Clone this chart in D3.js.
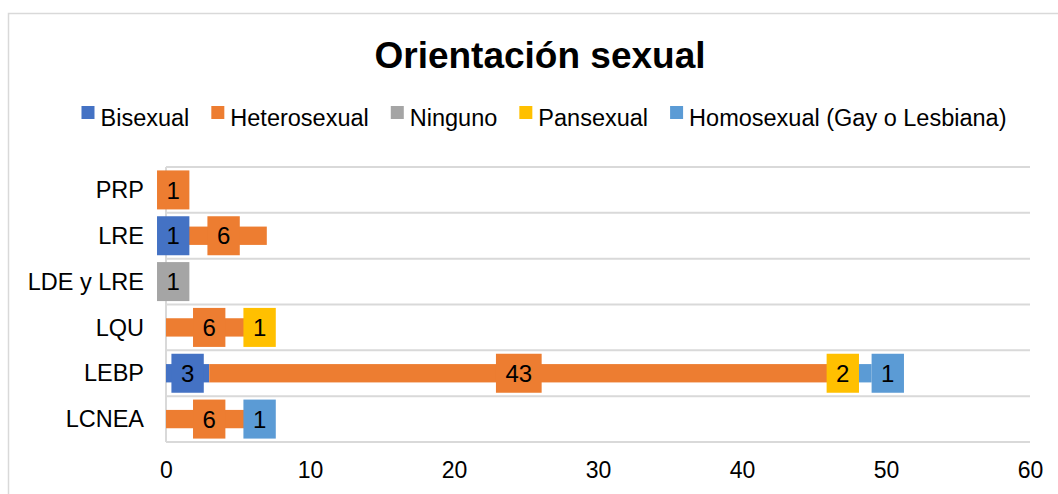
<!DOCTYPE html>
<html>
<head>
<meta charset="utf-8">
<script src="https://cdn.jsdelivr.net/npm/d3@7"></script>
<style>
  body { margin: 0; background: #fff; }
  text { font-family: "Liberation Sans", Arial, sans-serif; }
</style>
</head>
<body>
<div id="chart"></div>
<script>
var categories = ["PRP", "LRE", "LDE y LRE", "LQU", "LEBP", "LCNEA"];
var seriesNames = ["Bisexual", "Heterosexual", "Ninguno", "Pansexual", "Homosexual (Gay o Lesbiana)"];
var bisexual = [0, 1, 0, 0, 3, 0];
var heterosexual = [1, 6, 0, 6, 43, 6];
var ninguno = [0, 0, 1, 0, 0, 0];
var pansexual = [0, 0, 0, 1, 2, 0];
var homosexual = [0, 0, 0, 0, 1, 1];
var xTicks = [0, 10, 20, 30, 40, 50, 60];
var colors = ["#4472C4", "#ED7D31", "#A5A5A5", "#FFC000", "#5B9BD5"];
// the one label excel pushed past the end of its bar
var outsideLabels = [{ cat: "LEBP", series: "Homosexual (Gay o Lesbiana)" }];

var width = 1058, height = 494;
var seriesValues = [bisexual, heterosexual, ninguno, pansexual, homosexual];

var rows = categories.map(function(c, i) {
    var r = { cat: c };
    seriesNames.forEach(function(s, j) { r[s] = seriesValues[j][i]; });
    return r;
});
var stacked = d3.stack().keys(seriesNames)(rows);

var svg = d3.select("#chart").append("svg").attr("width", width).attr("height", height);

// chart border (only top and left fall inside the picture)
svg.append("rect").attr("x", 8.5).attr("y", 13.5).attr("width", 1200).attr("height", 800)
    .attr("fill", "none").attr("stroke", "#d9d9d9").attr("stroke-width", 1.5);

svg.append("text").attr("x", 540).attr("y", 68).attr("text-anchor", "middle")
    .attr("font-size", 37).attr("font-weight", "bold").attr("fill", "#000")
    .text("Orientación sexual");

// legend, centred
var legend = svg.append("g");
var lx = 0;
seriesNames.forEach(function(s, i) {
    var g = legend.append("g").attr("transform", "translate(" + lx + ",0)");
    g.append("rect").attr("x", 0).attr("y", -12).attr("width", 13).attr("height", 13).attr("fill", colors[i]);
    var t = g.append("text").attr("x", 19).attr("y", 0).attr("dy", "0.35em")
        .attr("font-size", 23.5).attr("fill", "#000").text(s);
    lx += 19 + t.node().getComputedTextLength() + 22;
});
lx -= 22;
legend.attr("transform", "translate(" + (544 - lx / 2) + ",118)");

var x = d3.scaleLinear().domain([0, 60]).range([166, 1030]);
var y = d3.scaleBand().domain(categories).range([167, 442]);
var barH = y.bandwidth() * 0.4;

// horizontal lines between categories
var bounds = categories.map(function(c) { return y(c); }).concat([y.range()[1]]);
svg.append("g").selectAll("line").data(bounds).enter().append("line")
    .attr("x1", x(0)).attr("x2", x(60))
    .attr("y1", function(d) { return d; }).attr("y2", function(d) { return d; })
    .attr("stroke", "#d9d9d9").attr("stroke-width", 2);
svg.append("line").attr("x1", x(0)).attr("x2", x(0)).attr("y1", 167).attr("y2", 442)
    .attr("stroke", "#d9d9d9").attr("stroke-width", 2);

// bars
stacked.forEach(function(layer, i) {
    svg.append("g").selectAll("rect").data(layer.filter(function(d) { return d[1] > d[0]; }))
        .enter().append("rect")
        .attr("x", function(d) { return x(d[0]); })
        .attr("width", function(d) { return x(d[1]) - x(d[0]); })
        .attr("y", function(d) { return y(d.data.cat) + (y.bandwidth() - barH) / 2; })
        .attr("height", barH)
        .attr("fill", colors[i]);
});

// data labels with filled boxes
stacked.forEach(function(layer, i) {
    layer.forEach(function(d) {
        var v = d[1] - d[0];
        if (v <= 0) return;
        var cy = y(d.data.cat) + y.bandwidth() / 2;
        var g = svg.append("g");
        var t = g.append("text").attr("text-anchor", "middle").attr("dy", "0.36em")
            .attr("font-size", 24).attr("fill", "#000").text(v);
        var w = t.node().getComputedTextLength() + 19;
        var outside = outsideLabels.some(function(o) { return o.cat === d.data.cat && o.series === layer.key; });
        var cx = outside ? x(d[1]) + w / 2 : (x(d[0]) + x(d[1])) / 2;
        g.insert("rect", "text").attr("x", cx - w / 2).attr("y", cy - 19.5)
            .attr("width", w).attr("height", 39).attr("fill", colors[i]);
        t.attr("x", cx).attr("y", cy);
    });
});

// category labels
svg.append("g").selectAll("text").data(categories).enter().append("text")
    .attr("x", 144).attr("y", function(d) { return y(d) + y.bandwidth() / 2; })
    .attr("dy", "0.35em").attr("text-anchor", "end")
    .attr("font-size", 23.5).attr("fill", "#000")
    .text(function(d) { return d; });

// value axis
var xAxis = d3.axisBottom(x).tickValues(xTicks).tickSize(0).tickPadding(20);
var ax = svg.append("g").attr("transform", "translate(0,442)").call(xAxis);
ax.select(".domain").remove();
ax.selectAll("text").attr("font-size", 23).attr("fill", "#000")
    .attr("font-family", "Liberation Sans, Arial, sans-serif");
</script>
</body>
</html>
